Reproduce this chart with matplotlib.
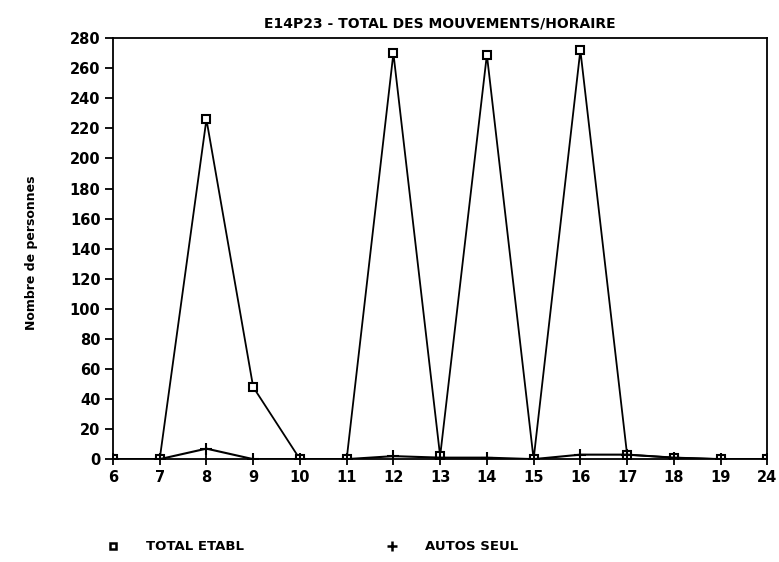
import matplotlib
matplotlib.use("Agg")
import matplotlib.pyplot as plt

hours = ["6", "7", "8", "9", "10", "11", "12", "13", "14", "15", "16", "17", "18", "19", "24"]
total_etabl = [0, 0, 226, 48, 0, 0, 270, 2, 269, 0, 272, 3, 1, 0, 0]
autos_seul = [0, 0, 7, 0, 0, 0, 2, 1, 1, 0, 3, 3, 1, 0, 0]

plt.rcParams["font.family"] = ["DejaVu Sans"]
plt.rcParams["font.weight"] = "bold"

fig = plt.figure(figsize=(7.79, 5.62), dpi=100)
ax = fig.add_axes([0.145, 0.183, 0.84, 0.749])

x = list(range(len(hours)))
ax.plot(x, total_etabl, color="black", linewidth=1.3, marker="s", markersize=6,
        markerfacecolor="white", markeredgecolor="black", markeredgewidth=1.5)
ax.plot(x, autos_seul, color="black", linewidth=1.5, marker="+", markersize=9,
        markeredgewidth=1.5)

ax.set_xlim(0, len(hours) - 1)
ax.set_ylim(0, 280)
ax.set_xticks(x)
ax.set_xticklabels(hours)
ax.set_yticks(range(0, 281, 20))

for side in ax.spines.values():
    side.set_linewidth(1.3)

ax.tick_params(axis="y", direction="out", length=6, width=1.3, labelsize=10.5, pad=3)
ax.tick_params(axis="x", direction="inout", length=9, width=1.3, labelsize=10.5, pad=3)
for lab in ax.get_xticklabels() + ax.get_yticklabels():
    lab.set_fontweight("bold")

ax.set_title("E14P23 - TOTAL DES MOUVEMENTS/HORAIRE", fontsize=10, fontweight="bold", pad=8)
fig.text(0.04, 0.55, "Nombre de personnes", rotation=90, fontsize=9,
         fontweight="bold", ha="center", va="center")

# legend drawn by hand under the axis
fig.lines.append(plt.Line2D([0.145], [0.028], transform=fig.transFigure, marker="s",
                            markersize=5, markerfacecolor="white", markeredgecolor="black",
                            markeredgewidth=1.8, linestyle="none"))
fig.text(0.188, 0.028, "TOTAL ETABL", fontsize=9.5, fontweight="bold", va="center")
fig.lines.append(plt.Line2D([0.503], [0.028], transform=fig.transFigure, marker="+",
                            markersize=7, markeredgewidth=1.8, color="black", linestyle="none"))
fig.text(0.545, 0.028, "AUTOS SEUL", fontsize=9.5, fontweight="bold", va="center")

fig.savefig("out.png", dpi=100)
